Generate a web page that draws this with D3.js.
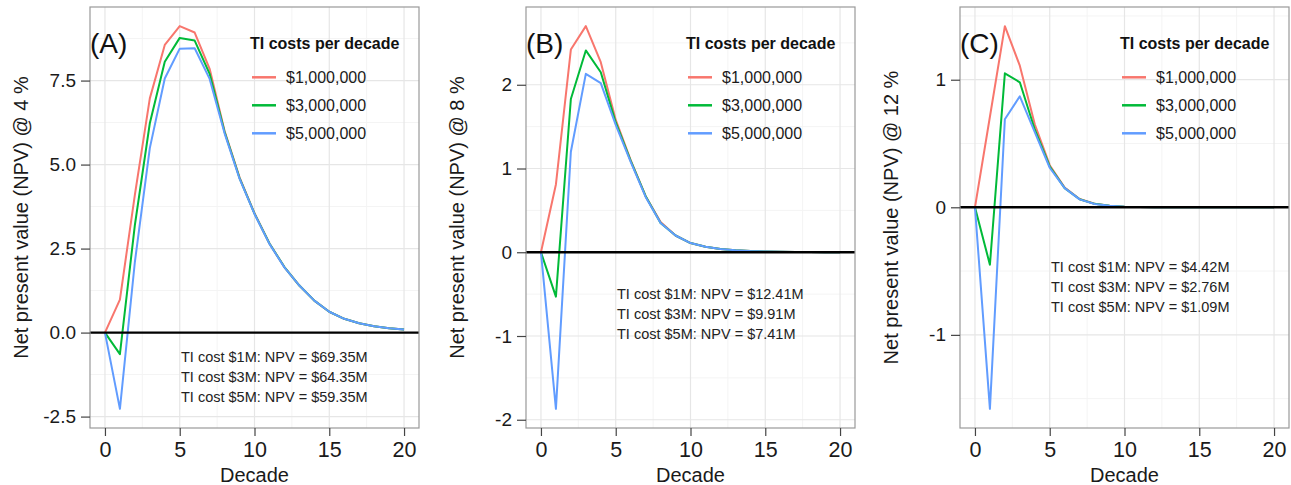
<!DOCTYPE html>
<html>
<head>
<meta charset="utf-8">
<script src="https://cdn.jsdelivr.net/npm/d3@7"></script>
<style>
  body { margin: 0; background: #fff; }
  svg { display: block; font-family: "Liberation Sans", Arial, sans-serif; }
</style>
</head>
<body>
<svg id="chart" width="1291" height="485"></svg>
<script>
// decades on the x axis
let decades = [0, 1, 2, 3, 4, 5, 6, 7, 8, 9, 10, 11, 12, 13, 14, 15, 16, 17, 18, 19, 20];

let seriesNames = ['$1,000,000', '$3,000,000', '$5,000,000'];
let seriesColors = ['#F8766D', '#00BA38', '#619CFF'];

// (A) NPV @ 4 %
let npv4_1M = [0, 0.98, 4.10, 6.97, 8.56, 9.12, 8.93, 7.85, 6.00, 4.62, 3.55, 2.65, 1.95, 1.40, 0.95, 0.62, 0.41, 0.28, 0.19, 0.13, 0.09];
let npv4_3M = [0, -0.64, 3.20, 6.23, 8.06, 8.77, 8.69, 7.70, 5.97, 4.60, 3.54, 2.65, 1.95, 1.40, 0.95, 0.62, 0.41, 0.28, 0.19, 0.13, 0.09];
let npv4_5M = [0, -2.27, 2.10, 5.49, 7.56, 8.45, 8.46, 7.55, 5.93, 4.58, 3.53, 2.64, 1.94, 1.40, 0.95, 0.62, 0.41, 0.28, 0.19, 0.13, 0.09];

// (B) NPV @ 8 %
let npv8_1M = [0, 0.81, 2.42, 2.70, 2.27, 1.58, 1.10, 0.67, 0.36, 0.20, 0.11, 0.065, 0.04, 0.024, 0.014, 0.008, 0.005, 0.003, 0.002, 0.001, 0.001];
let npv8_3M = [0, -0.53, 1.83, 2.41, 2.15, 1.55, 1.09, 0.67, 0.35, 0.20, 0.11, 0.065, 0.04, 0.024, 0.014, 0.008, 0.005, 0.003, 0.002, 0.001, 0.001];
let npv8_5M = [0, -1.87, 1.20, 2.13, 2.02, 1.52, 1.08, 0.66, 0.35, 0.20, 0.11, 0.065, 0.04, 0.024, 0.014, 0.008, 0.005, 0.003, 0.002, 0.001, 0.001];

// (C) NPV @ 12 %
let npv12_1M = [0, 0.71, 1.42, 1.11, 0.65, 0.33, 0.155, 0.065, 0.028, 0.012, 0.005, 0.002, 0.001, 0, 0, 0, 0, 0, 0, 0, 0];
let npv12_3M = [0, -0.45, 1.05, 0.98, 0.61, 0.32, 0.15, 0.063, 0.027, 0.012, 0.005, 0.002, 0.001, 0, 0, 0, 0, 0, 0, 0, 0];
let npv12_5M = [0, -1.58, 0.69, 0.87, 0.59, 0.31, 0.15, 0.062, 0.026, 0.012, 0.005, 0.002, 0.001, 0, 0, 0, 0, 0, 0, 0, 0];

let xTicks = [0, 5, 10, 15, 20];
let yTicks4 = [-2.5, 0, 2.5, 5, 7.5];
let yTicks8 = [-2, -1, 0, 1, 2];
let yTicks12 = [-1, 0, 1];

let notes4 = ['TI cost $1M: NPV = $69.35M', 'TI cost $3M: NPV = $64.35M', 'TI cost $5M: NPV = $59.35M'];
let notes8 = ['TI cost $1M: NPV = $12.41M', 'TI cost $3M: NPV = $9.91M', 'TI cost $5M: NPV = $7.41M'];
let notes12 = ['TI cost $1M: NPV = $4.42M', 'TI cost $3M: NPV = $2.76M', 'TI cost $5M: NPV = $1.09M'];

// plain hyphen for negatives, like the original
let fmt1 = d => d3.format('.1f')(d).replace('\u2212', '-');
let fmt0 = d => d3.format('d')(d).replace('\u2212', '-');

let panels = [
  {tag: '(A)', left: 90, series: [npv4_1M, npv4_3M, npv4_5M], yTicks: yTicks4, fmt: fmt1,
   yTitle: 'Net present value (NPV) @ 4 %', notes: notes4, noteY: -0.73},
  {tag: '(B)', left: 526, series: [npv8_1M, npv8_3M, npv8_5M], yTicks: yTicks8, fmt: fmt0,
   yTitle: 'Net present value (NPV) @ 8 %', notes: notes8, noteY: -0.5},
  {tag: '(C)', left: 960, series: [npv12_1M, npv12_3M, npv12_5M], yTicks: yTicks12, fmt: fmt0,
   yTitle: 'Net present value (NPV) @ 12 %', notes: notes12, noteY: -0.47}
];

let plotW = 329;
let plotTop = 7;
let plotBottom = 428;

let svg = d3.select('#chart');

function expand(ext, f) {
  let pad = (ext[1] - ext[0]) * f;
  return [ext[0] - pad, ext[1] + pad];
}

panels.forEach(p => {
  let g = svg.append('g').attr('transform', `translate(${p.left},0)`);

  let x = d3.scaleLinear().domain(expand(d3.extent(decades), 0.05)).range([0, plotW]);
  let allVals = p.series.flat();
  let y = d3.scaleLinear().domain(expand(d3.extent(allVals), 0.05)).range([plotBottom, plotTop]);

  // minor grid
  let yMinor = [];
  let step = p.yTicks[1] - p.yTicks[0];
  for (let i = -1; i < p.yTicks.length; i++) {
    let v = p.yTicks[0] + step * (i + 0.5);
    if (v > y.domain()[0] && v < y.domain()[1]) yMinor.push(v);
  }
  let xMinor = [2.5, 7.5, 12.5, 17.5];

  g.selectAll('line.minorY').data(yMinor).enter().append('line')
    .attr('x1', 0).attr('x2', plotW)
    .attr('y1', d => y(d)).attr('y2', d => y(d))
    .style('stroke', '#f4f4f4').style('stroke-width', '1px');
  g.selectAll('line.minorX').data(xMinor).enter().append('line')
    .attr('x1', d => x(d)).attr('x2', d => x(d))
    .attr('y1', plotTop).attr('y2', plotBottom)
    .style('stroke', '#f4f4f4').style('stroke-width', '1px');

  // major grid
  g.selectAll('line.majorY').data(p.yTicks).enter().append('line')
    .attr('x1', 0).attr('x2', plotW)
    .attr('y1', d => y(d)).attr('y2', d => y(d))
    .style('stroke', '#e6e6e6').style('stroke-width', '1.2px');
  g.selectAll('line.majorX').data(xTicks).enter().append('line')
    .attr('x1', d => x(d)).attr('x2', d => x(d))
    .attr('y1', plotTop).attr('y2', plotBottom)
    .style('stroke', '#e6e6e6').style('stroke-width', '1.2px');

  // series lines
  let line = d3.line().x((d, i) => x(decades[i])).y(d => y(d));
  p.series.forEach((s, i) => {
    g.append('path')
      .datum(s)
      .attr('d', line)
      .style('fill', 'none')
      .style('stroke', seriesColors[i])
      .style('stroke-width', '2px')
      .style('stroke-linejoin', 'round');
  });

  // zero line on top of the series
  g.append('line')
    .attr('x1', 0).attr('x2', plotW)
    .attr('y1', y(0)).attr('y2', y(0))
    .style('stroke', '#000').style('stroke-width', '2.4px');

  // border
  g.append('rect')
    .attr('x', 0).attr('y', plotTop)
    .attr('width', plotW).attr('height', plotBottom - plotTop)
    .style('fill', 'none').style('stroke', '#999').style('stroke-width', '1.2px');

  // axes
  let yAxis = g.append('g')
    .call(d3.axisLeft(y).tickValues(p.yTicks).tickFormat(p.fmt).tickSize(9).tickPadding(5));
  let xAxis = g.append('g')
    .attr('transform', `translate(0,${plotBottom})`)
    .call(d3.axisBottom(x).tickValues(xTicks).tickSize(8).tickPadding(6));
  [yAxis, xAxis].forEach(a => {
    a.select('.domain').remove();
    a.selectAll('.tick line').style('stroke', '#444').style('stroke-width', '1.2px');
    a.selectAll('.tick text').style('fill', '#1a1a1a').style('font-family', '"Liberation Sans", Arial, sans-serif');
  });
  yAxis.selectAll('.tick text').style('font-size', '19px');
  xAxis.selectAll('.tick text').style('font-size', '21.5px');

  // axis titles
  g.append('text')
    .attr('transform', `translate(${-69},${(plotTop + plotBottom) / 2}) rotate(-90)`)
    .attr('text-anchor', 'middle')
    .attr('dy', '0.35em')
    .style('font-size', '20px')
    .style('fill', '#1a1a1a')
    .text(p.yTitle);
  g.append('text')
    .attr('x', plotW / 2).attr('y', 482)
    .attr('text-anchor', 'middle')
    .style('font-size', '20px')
    .style('fill', '#1a1a1a')
    .text('Decade');

  // panel tag
  g.append('text')
    .attr('x', 0).attr('y', 53)
    .style('font-size', '28px')
    .style('fill', '#111')
    .text(p.tag);

  // legend
  let leg = g.append('g');
  leg.append('text')
    .attr('x', 160).attr('y', 48.7)
    .style('font-size', '16px')
    .style('font-weight', 'bold')
    .style('fill', '#111')
    .text('TI costs per decade');
  seriesNames.forEach((nm, i) => {
    let ly = 77.3 + i * 28;
    leg.append('line')
      .attr('x1', 162).attr('x2', 186)
      .attr('y1', ly).attr('y2', ly)
      .style('stroke', seriesColors[i]).style('stroke-width', '2.5px');
    leg.append('text')
      .attr('x', 196).attr('y', ly).attr('dy', '0.36em')
      .style('font-size', '16px')
      .style('fill', '#1a1a1a')
      .text(nm);
  });

  // notes
  p.notes.forEach((t, i) => {
    g.append('text')
      .attr('x', 91).attr('y', y(p.noteY) + i * 20).attr('dy', '0.35em')
      .style('font-size', '14.5px')
      .style('fill', '#222')
      .text(t);
  });
});
</script>
</body>
</html>
